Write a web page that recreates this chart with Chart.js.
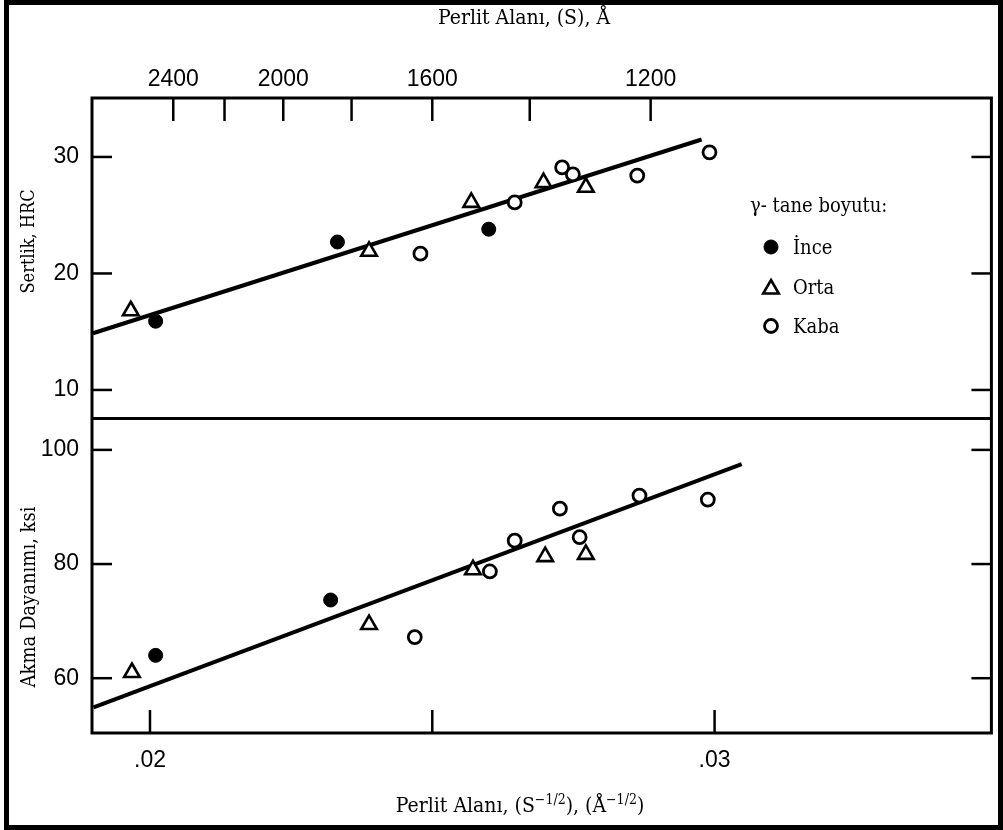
<!DOCTYPE html>
<html><head><meta charset="utf-8">
<script src="https://cdn.jsdelivr.net/npm/chart.js@4.4.1/dist/chart.umd.min.js"></script>
<style>html,body{margin:0;padding:0;background:#fff}</style>
</head><body>
<canvas id="c" width="1003" height="830"></canvas>
<script>
// ---- data ----
const grainSizes = ['İnce', 'Orta', 'Kaba'];
// x values: pearlite spacing S^-1/2 (Å^-1/2)
// top panel: hardness HRC
const hrcInceX = [0.02010, 0.02332, 0.02600];
const hrcInceY = [15.9, 22.7, 23.8];
const hrcOrtaX = [0.01966, 0.02388, 0.02569, 0.02697, 0.02772];
const hrcOrtaY = [16.8, 21.9, 26.1, 27.8, 27.4];
const hrcKabaX = [0.02479, 0.02646, 0.02730, 0.02749, 0.02863, 0.02991];
const hrcKabaY = [21.7, 26.1, 29.1, 28.5, 28.4, 30.4];
const hrcFitX = [0.01899, 0.02977];
const hrcFitY = [14.87, 31.5];
// bottom panel: yield strength ksi
const ksiInceX = [0.02010, 0.02320];
const ksiInceY = [64.0, 73.7];
const ksiOrtaX = [0.01968, 0.02388, 0.02572, 0.02700, 0.02772];
const ksiOrtaY = [61.0, 69.4, 79.0, 81.3, 81.7];
const ksiKabaX = [0.02469, 0.02602, 0.02646, 0.02726, 0.02761, 0.02867, 0.02988];
const ksiKabaY = [67.2, 78.7, 84.1, 89.7, 84.7, 92.0, 91.3];
const ksiFitX = [0.01900, 0.03048];
const ksiFitY = [54.9, 97.5];
// ticks
const xTickValues = [0.02, 0.025, 0.03];
const xTickLabels = ['.02', '', '.03'];
const topTickS = [2400, 2200, 2000, 1800, 1600, 1400, 1200];
const topLabelS = [2400, 2000, 1600, 1200];
const hrcTicks = [10, 20, 30];
const ksiTicks = [60, 80, 100];

const pts = (xs, ys) => xs.map((v, i) => ({x: v, y: ys[i]}));
const markerStyles = [
  {pointStyle: 'circle', radius: 7, bg: '#000', bw: 1},
  {pointStyle: 'triangle', radius: 9, bg: '#fff', bw: 2.6},
  {pointStyle: 'circle', radius: 6.5, bg: '#fff', bw: 2.8}
];
function ds(label, xs, ys, yAxisID, k) {
  const m = markerStyles[k];
  return {label, data: pts(xs, ys), xAxisID: 'x', yAxisID, showLine: false,
    pointStyle: m.pointStyle, pointRadius: m.radius, pointHoverRadius: m.radius,
    pointBackgroundColor: m.bg, pointBorderColor: '#000', pointBorderWidth: m.bw};
}
function fit(xs, ys, yAxisID) {
  return {label: 'fit', data: pts(xs, ys), xAxisID: 'x', yAxisID, showLine: true,
    borderColor: '#000', borderWidth: 4, pointRadius: 0, fill: false};
}

const X_MIN = 0.018973, X_MAX = 0.034903;
const tickFont = {family: 'Liberation Sans, Arial, sans-serif', size: 23};
const serif = 'DejaVu Serif Condensed, DejaVu Serif, serif';

function line(ctx, x1, y1, x2, y2) { ctx.beginPath(); ctx.moveTo(x1, y1); ctx.lineTo(x2, y2); ctx.stroke(); }

const decor = {
  id: 'decor',
  afterDraw(chart) {
    const ctx = chart.ctx;
    const {x, x2, yT, yB} = chart.scales;
    const {left: L, right: R, top: T, bottom: B} = chart.chartArea;
    const mid = yT.bottom;
    ctx.save();
    ctx.strokeStyle = '#000';
    ctx.lineCap = 'butt';
    ctx.lineWidth = 3;
    ctx.strokeRect(L, T, R - L, B - T);
    line(ctx, L, mid, R, mid);
    ctx.lineWidth = 2.5;
    for (const v of hrcTicks) { const p = yT.getPixelForValue(v); line(ctx, L, p, L + 20, p); line(ctx, R, p, R - 20, p); }
    for (const v of ksiTicks) { const p = yB.getPixelForValue(v); line(ctx, L, p, L + 20, p); line(ctx, R, p, R - 20, p); }
    for (const v of xTickValues) { const p = x.getPixelForValue(v); line(ctx, p, B, p, B - 23); }
    for (const s of topTickS) { const p = x2.getPixelForValue(1 / Math.sqrt(s)); line(ctx, p, T, p, T + 23); }

    // outer frame
    ctx.lineWidth = 5;
    ctx.strokeRect(6.5, 2.5, 1003 - 9, 830 - 5);

    // titles
    ctx.fillStyle = '#000';
    ctx.textBaseline = 'middle';
    ctx.textAlign = 'center';
    ctx.font = '21px ' + serif;
    ctx.fillText('Perlit Alanı, (S), Å', 524, 19);

    ctx.save();
    ctx.translate(29.5, 241.5);
    ctx.rotate(-Math.PI / 2);
    ctx.font = '18px ' + serif;
    ctx.fillText('Sertlik, HRC', 0, 0);
    ctx.restore();
    ctx.save();
    ctx.translate(29.5, 597);
    ctx.rotate(-Math.PI / 2);
    ctx.font = '20px ' + serif;
    ctx.fillText('Akma Dayanımı, ksi', 0, 0);
    ctx.restore();

    // bottom title with superscripts
    const parts = [['Perlit Alanı, (S', 0], ['−1/2', 1], ['), (Å', 0], ['−1/2', 1], [')', 0]];
    const big = '21px ' + serif, small = '14px ' + serif;
    let w = 0;
    for (const [t, s] of parts) { ctx.font = s ? small : big; w += ctx.measureText(t).width; }
    let cx = 520 - w / 2;
    ctx.textAlign = 'left';
    ctx.textBaseline = 'alphabetic';
    for (const [t, s] of parts) {
      ctx.font = s ? small : big;
      ctx.fillText(t, cx, s ? 804 : 812);
      cx += ctx.measureText(t).width;
    }

    // legend
    ctx.textBaseline = 'middle';
    ctx.font = '20px ' + serif;
    ctx.fillText('γ- tane boyutu:', 750, 207);
    const ly = [247, 287, 326];
    grainSizes.forEach((g, i) => {
      const m = markerStyles[i];
      ctx.fillStyle = m.bg; ctx.strokeStyle = '#000'; ctx.lineWidth = m.bw;
      Chart.helpers.drawPoint(ctx, {pointStyle: m.pointStyle, radius: m.radius, rotation: 0, borderWidth: m.bw}, 771, ly[i] + (m.pointStyle === 'triangle' ? 2 : 0));
      ctx.fillStyle = '#000';
      ctx.fillText(g, 793, ly[i] + 2);
    });
    ctx.restore();
  }
};

new Chart(document.getElementById('c'), {
  type: 'scatter',
  data: {datasets: [
    ds(grainSizes[0], hrcInceX, hrcInceY, 'yT', 0),
    ds(grainSizes[1], hrcOrtaX, hrcOrtaY, 'yT', 1),
    ds(grainSizes[2], hrcKabaX, hrcKabaY, 'yT', 2),
    fit(hrcFitX, hrcFitY, 'yT'),
    ds(grainSizes[0], ksiInceX, ksiInceY, 'yB', 0),
    ds(grainSizes[1], ksiOrtaX, ksiOrtaY, 'yB', 1),
    ds(grainSizes[2], ksiKabaX, ksiKabaY, 'yB', 2),
    fit(ksiFitX, ksiFitY, 'yB')
  ]},
  options: {
    responsive: false,
    animation: false,
    layout: {padding: {left: 0, right: 11, top: 0, bottom: 0}},
    plugins: {legend: {display: false}, tooltip: {enabled: false}},
    scales: {
      x: {
        type: 'linear', position: 'bottom', min: X_MIN, max: X_MAX,
        grid: {display: false}, border: {display: false},
        afterBuildTicks: s => { s.ticks = xTickValues.map(v => ({value: v})); },
        afterFit: s => { s.height = 97; },
        ticks: {font: tickFont, color: '#000', padding: 6, maxRotation: 0, autoSkip: false,
          callback: v => { const i = xTickValues.findIndex(t => Math.abs(t - v) < 1e-9); return i >= 0 ? xTickLabels[i] : ''; }}
      },
      x2: {
        type: 'linear', position: 'top', axis: 'x', min: X_MIN, max: X_MAX,
        grid: {display: false}, border: {display: false},
        afterBuildTicks: s => { s.ticks = topTickS.map(v => ({value: 1 / Math.sqrt(v)})); },
        afterFit: s => { s.height = 98; },
        ticks: {font: tickFont, color: '#000', padding: -3, maxRotation: 0, autoSkip: false,
          callback: v => { const S = Math.round(1 / (v * v)); return topLabelS.includes(S) ? String(S) : ''; }}
      },
      yB: {
        type: 'linear', position: 'left', stack: 'panels', stackWeight: 314.5, min: 50.4, max: 105.5,
        grid: {display: false}, border: {display: false},
        afterBuildTicks: s => { s.ticks = ksiTicks.map(v => ({value: v})); },
        afterFit: s => { s.width = 92; },
        ticks: {font: tickFont, color: '#000', padding: 5}
      },
      yT: {
        type: 'linear', position: 'left', stack: 'panels', stackWeight: 320.5, min: 7.55, max: 35.06,
        grid: {display: false}, border: {display: false},
        afterBuildTicks: s => { s.ticks = hrcTicks.map(v => ({value: v})); },
        afterFit: s => { s.width = 92; },
        ticks: {font: tickFont, color: '#000', padding: 5}
      }
    }
  },
  plugins: [decor]
});
</script>
</body></html>
